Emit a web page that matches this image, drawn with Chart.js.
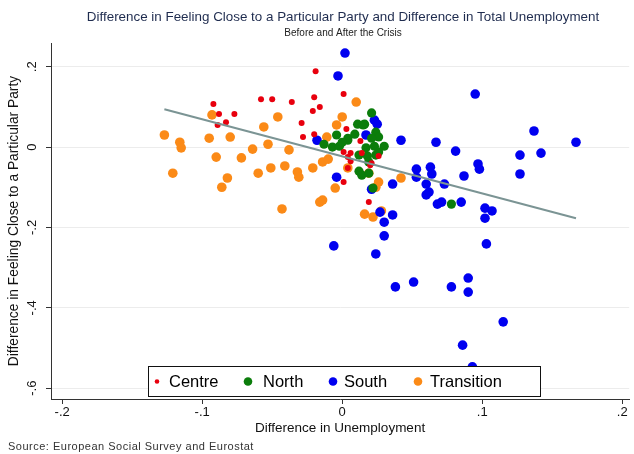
<!DOCTYPE html>
<html><head><meta charset="utf-8">
<script src="https://cdn.jsdelivr.net/npm/chart.js@4.4.1/dist/chart.umd.min.js"></script>
<style>html,body{margin:0;padding:0;background:#fff;}#wrap{width:634px;height:454px;position:relative;}</style>
</head><body><div id="wrap"><canvas id="c" width="634" height="454"></canvas></div>
<script>
const seriesNames = ['Centre', 'North', 'South', 'Transition'];

const centreX = [-0.092,-0.088,-0.077,-0.083,-0.089,-0.058,-0.050,-0.036,-0.029,-0.019,-0.020,0.001,-0.021,-0.016,-0.028,-0.020,0.003,0.013,0.001,0.004,0.014,0.026,0.004,0.021,0.001,0.019,0.006,0.020,0.006];
const centreY = [0.107,0.082,0.082,0.062,0.055,0.119,0.119,0.112,0.060,0.189,0.124,0.132,0.090,0.100,0.025,0.032,0.045,0.015,-0.012,-0.025,-0.015,-0.022,-0.052,-0.040,-0.087,-0.137,-0.035,-0.045,-0.015];

const northX = [0.021,0.011,0.016,-0.004,0.004,0.009,0.024,-0.013,-0.007,-0.002,0.004,0.017,0.023,0.030,0.012,0.018,0.024,0.019,0.012,0.014,0.019,0.026,0.000,0.021,0.015,0.078,0.022,0.026];
const northY = [0.085,0.057,0.057,0.030,0.022,0.032,0.037,0.007,0.000,0.002,0.017,-0.002,0.002,0.002,-0.020,-0.022,-0.020,-0.037,-0.060,-0.070,-0.065,0.025,0.012,0.022,0.055,-0.142,-0.102,-0.012];

const southX = [0.002,-0.003,-0.018,0.017,0.023,0.025,0.042,-0.004,0.036,0.021,0.027,0.036,0.030,0.030,0.095,0.137,0.167,0.142,0.127,0.127,0.067,0.081,0.053,0.053,0.063,0.064,0.097,0.098,0.087,0.060,0.073,0.062,0.060,0.068,0.071,0.085,0.102,0.107,0.102,0.103,-0.006,0.024,0.038,0.051,0.078,0.090,0.090,0.115,0.086,0.093];
const southY = [0.234,0.177,0.017,0.030,0.067,0.057,0.017,-0.075,-0.092,-0.105,-0.162,-0.169,-0.187,-0.221,0.132,0.040,0.012,-0.015,-0.020,-0.067,0.012,-0.010,-0.055,-0.075,-0.050,-0.067,-0.042,-0.055,-0.072,-0.092,-0.092,-0.112,-0.119,-0.142,-0.137,-0.137,-0.152,-0.159,-0.177,-0.241,-0.246,-0.266,-0.348,-0.336,-0.348,-0.326,-0.361,-0.435,-0.493,-0.547];

const transX = [-0.127,-0.116,-0.115,-0.093,-0.095,-0.080,-0.090,-0.121,-0.082,-0.086,-0.072,-0.064,-0.056,-0.053,-0.046,-0.060,-0.051,-0.041,-0.038,-0.032,-0.031,-0.043,-0.021,-0.014,-0.010,0.010,0.000,-0.004,-0.011,0.004,0.019,0.026,0.024,0.042,-0.005,-0.016,-0.014,0.016,0.022,0.028];
const transY = [0.030,0.012,-0.002,0.080,0.022,0.025,-0.025,-0.065,-0.077,-0.100,-0.027,-0.005,0.050,0.007,0.075,-0.065,-0.052,-0.047,-0.007,-0.062,-0.075,-0.154,-0.052,-0.037,-0.030,0.112,0.075,0.055,0.025,-0.052,-0.065,-0.087,-0.100,-0.077,-0.102,-0.137,-0.132,-0.167,-0.174,-0.159];

const fitX = [-0.127, 0.167];
const fitY = [0.094, -0.177];

const xTicks = [-0.2, -0.1, 0, 0.1, 0.2];
const xTickLabels = ['-.2', '-.1', '0', '.1', '.2'];
const yTicks = [-0.6, -0.4, -0.2, 0, 0.2];
const yTickLabels = ['-.6', '-.4', '-.2', '0', '.2'];

const titleText = 'Difference in Feeling Close to a Particular Party and Difference in Total Unemployment';
const subtitleText = 'Before and After the Crisis';
const sourceText = 'Source: European Social Survey and Eurostat';
const xTitle = 'Difference in Unemployment';
const yTitle = 'Difference in Feeling Close to a Particular Party';

const colors = ['#e8000e', '#0b7d0b', '#0000f0', '#fb8a17'];
const radii = [3, 4.6, 4.8, 4.8];
const FONT = '"Liberation Sans", Arial, sans-serif';

function pts(xs, ys) { return xs.map((x, i) => ({ x: x, y: ys[i] })); }
const seriesData = [pts(centreX, centreY), pts(northX, northY), pts(southX, southY), pts(transX, transY)];

const datasets = seriesNames.map((n, i) => ({
  type: 'scatter', label: n, data: seriesData[i],
  backgroundColor: colors[i], borderColor: colors[i], borderWidth: 0,
  pointRadius: radii[i], pointHoverRadius: radii[i], order: i
}));
datasets.push({
  type: 'line', label: 'Fitted', data: pts(fitX, fitY),
  borderColor: '#7b9494', borderWidth: 2, pointRadius: 0, fill: false, order: -1
});

const textPlugin = {
  id: 'texts',
  afterDraw(chart) {
    const ctx = chart.ctx;
    ctx.save();
    ctx.textAlign = 'center'; ctx.textBaseline = 'middle';
    ctx.fillStyle = '#1f2c4f';
    ctx.font = '13.4px ' + FONT;
    ctx.fillText(titleText, 343, 17);
    ctx.fillStyle = '#222';
    ctx.font = '10px ' + FONT;
    ctx.fillText(subtitleText, 343, 33);
    ctx.textAlign = 'left';
    ctx.fillStyle = '#333';
    ctx.font = '11px ' + FONT;
    ctx.letterSpacing = '0.5px';
    ctx.fillText(sourceText, 8, 447);
    ctx.letterSpacing = '0px';
    // legend
    const bx = 148.5, by = 366.5, bw = 392, bh = 30;
    ctx.fillStyle = '#fff';
    ctx.fillRect(bx, by, bw, bh);
    ctx.strokeStyle = '#111'; ctx.lineWidth = 1;
    ctx.strokeRect(bx, by, bw, bh);
    const dotX = [157, 248, 333, 418];
    const txtX = [169, 263, 344, 430];
    ctx.font = '16.5px ' + FONT;
    ctx.textBaseline = 'middle';
    for (let i = 0; i < seriesNames.length; i++) {
      ctx.fillStyle = colors[i];
      ctx.beginPath();
      ctx.arc(dotX[i], by + bh / 2, i === 0 ? 2.3 : 4.3, 0, Math.PI * 2);
      ctx.fill();
      ctx.fillStyle = '#000';
      ctx.fillText(seriesNames[i], txtX[i], by + bh / 2 + 1);
    }
    ctx.restore();
  }
};

new Chart(document.getElementById('c'), {
  data: { datasets: datasets },
  options: {
    responsive: false, animation: false, devicePixelRatio: 1,
    layout: { padding: { top: 43, right: 3, left: 0, bottom: 0 } },
    plugins: { legend: { display: false }, tooltip: { enabled: false }, title: { display: false } },
    scales: {
      x: {
        type: 'linear', min: -0.208, max: 0.205,
        afterBuildTicks: s => { s.ticks = xTicks.map(v => ({ value: v })); },
        afterFit: s => { s.height = 55; },
        ticks: { callback: (v, i) => xTickLabels[i], color: '#111', font: { family: FONT, size: 13 }, padding: 1 },
        grid: { drawOnChartArea: false, drawTicks: true, tickLength: 5, tickColor: '#333' },
        border: { display: true, color: '#333', width: 1 },
        title: { display: true, text: xTitle, color: '#111', font: { family: FONT, size: 13.5 }, padding: { top: 0, bottom: 18 } }
      },
      y: {
        type: 'linear', min: -0.627, max: 0.259,
        afterBuildTicks: s => { s.ticks = yTicks.map(v => ({ value: v })); },
        afterFit: s => { s.width = 51; },
        ticks: { callback: (v, i) => yTickLabels[i], color: '#111', font: { family: FONT, size: 13 }, minRotation: 90, maxRotation: 90, crossAlign: 'center', padding: 6 },
        grid: { color: '#ececec', drawTicks: true, tickLength: 5, tickColor: '#333' },
        border: { display: true, color: '#333', width: 1 },
        title: { display: true, text: yTitle, color: '#111', font: { family: FONT, size: 13.8 }, padding: { top: 6, bottom: 0 } }
      }
    }
  },
  plugins: [textPlugin]
});
</script></body></html>
